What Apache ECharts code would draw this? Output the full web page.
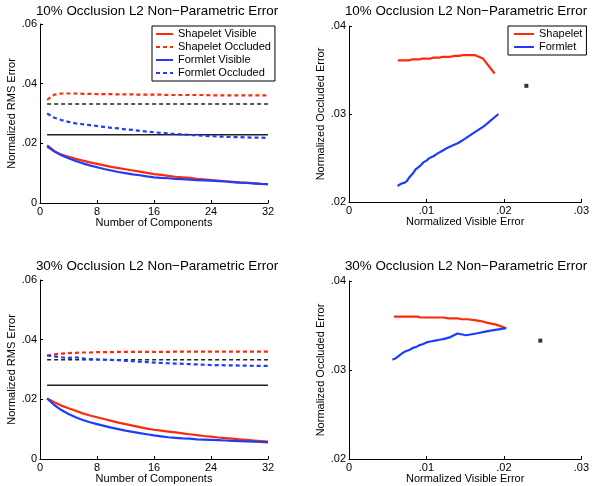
<!DOCTYPE html>
<html>
<head>
<meta charset="utf-8">
<script src="https://cdn.jsdelivr.net/npm/echarts@6/dist/echarts.min.js"></script>
<style>
  html, body { margin: 0; padding: 0; background: #fff; }
  #chart { width: 592px; height: 486px; }
</style>
</head>
<body>
<div id="chart"></div>
<script>
// number of components (x of the left panels)
var comps = [1, 2, 3, 4, 5, 6, 7, 8, 9, 10, 11, 12, 13, 14, 15, 16,
             17, 18, 19, 20, 21, 22, 23, 24, 25, 26, 27, 28, 29, 30, 31, 32];

// 10% occlusion
var shapeVis10 = [.0188, .0173, .0162, .0155, .0148, .0142, .0136, .0131, .0126, .0121, .0117, .0113, .0109, .0105, .0101, .0097,
                  .0094, .0091, .0088, .0086, .0084, .0081, .0079, .0077, .0075, .0073, .0071, .0069, .0068, .0066, .0064, .0063];
var shapeOcc10 = [.0346, .0363, .0367, .0367, .0367, .0366, .0366, .0365, .0365, .0365, .0364, .0364, .0364, .0363, .0363, .0363,
                  .0363, .0362, .0362, .0362, .0362, .0362, .0362, .0361, .0361, .0361, .0361, .0361, .0361, .0361, .0361, .0361];
var formVis10 = [.0193, .0174, .0160, .0150, .0141, .0133, .0126, .0120, .0114, .0109, .0104, .0100, .0096, .0093, .0089, .0086,
                 .0084, .0083, .0081, .0080, .0078, .0077, .0076, .0075, .0073, .0072, .0070, .0068, .0067, .0066, .0064, .0063];
var formOcc10 = [.0300, .0286, .0278, .0272, .0267, .0264, .0261, .0258, .0255, .0252, .0250, .0247, .0245, .0242, .0239, .0237,
                 .0235, .0233, .0231, .0230, .0228, .0227, .0225, .0224, .0223, .0222, .0221, .0221, .0220, .0219, .0219, .0218];
var baseVis10 = .0229;
var baseOcc10 = .0332;

// 30% occlusion
var shapeVis30 = [.0203, .0190, .0179, .0170, .0162, .0153, .0146, .0140, .0134, .0128, .0122, .0117, .0112, .0107, .0102, .0098,
                  .0095, .0092, .0089, .0086, .0083, .0080, .0077, .0075, .0072, .0070, .0068, .0066, .0064, .0062, .0060, .0058];
var shapeOcc30 = [.0347, .0351, .0353, .0355, .0356, .0357, .0357, .0358, .0358, .0358, .0359, .0359, .0359, .0359, .0359, .0359,
                  .0359, .0359, .0360, .0360, .0360, .0360, .0360, .0360, .0360, .0360, .0360, .0360, .0360, .0360, .0360, .0360];
var formVis30 = [.0203, .0181, .0164, .0151, .0140, .0131, .0123, .0117, .0111, .0105, .0100, .0095, .0091, .0087, .0083, .0079,
                 .0076, .0073, .0071, .0069, .0068, .0066, .0065, .0064, .0063, .0062, .0061, .0060, .0059, .0058, .0057, .0056];
var formOcc30 = [.0347, .0344, .0341, .0339, .0341, .0337, .0335, .0334, .0333, .0332, .0331, .0329, .0328, .0326, .0325, .0323,
                 .0322, .0321, .0320, .0319, .0318, .0317, .0316, .0315, .0315, .0314, .0314, .0313, .0313, .0312, .0312, .0312];
var baseVis30 = .0247;
var baseOcc30 = .0333;

var RED = '#ff2a0a';
var BLUE = '#1e3cff';
var FONT = 'Liberation Sans, Arial, Helvetica, sans-serif';

function byComp(vals) {
    return comps.map(function (k, i) { return [k, vals[i]]; });
}
function pairs(vis, occ) {
    return vis.map(function (v, i) { return [v, occ[i]]; });
}
function flat(v) {
    return [[comps[0], v], [comps[comps.length - 1], v]];
}
function tick(v) {
    if (v === 0) return '0';
    return String(+v.toFixed(2)).replace(/^0/, '');
}

function xAx(idx, max, interval, name) {
    return {
        gridIndex: idx, type: 'value', min: 0, max: max, interval: interval,
        name: name, nameLocation: 'middle', nameGap: 13,
        nameTextStyle: {color: '#000', fontSize: 11, fontFamily: FONT},
        axisLine: {lineStyle: {color: '#000', width: 1}},
        axisTick: {inside: true, length: 3, lineStyle: {color: '#000'}},
        axisLabel: {color: '#000', fontSize: 11, fontFamily: FONT, margin: 3, formatter: tick},
        splitLine: {show: false}
    };
}
function yAx(idx, min, max, interval, name, gap) {
    return {
        gridIndex: idx, type: 'value', min: min, max: max, interval: interval,
        name: name, nameLocation: 'middle', nameGap: gap,
        nameTextStyle: {color: '#000', fontSize: 11, fontFamily: FONT},
        axisLine: {show: true, lineStyle: {color: '#000', width: 1}},
        axisTick: {show: true, inside: true, length: 3, lineStyle: {color: '#000'}},
        axisLabel: {color: '#000', fontSize: 11, fontFamily: FONT, margin: 3, formatter: tick},
        splitLine: {show: false}
    };
}
function line(name, idx, data, color, dashed, width) {
    return {
        name: name, type: 'line', xAxisIndex: idx, yAxisIndex: idx, data: data,
        showSymbol: false, symbol: 'none', silent: true, animation: false,
        lineStyle: {color: color, width: width || 2.2, type: dashed ? [4, 3] : 'solid'},
        itemStyle: {color: color}
    };
}
function marker(idx, x, y) {
    return {
        type: 'scatter', xAxisIndex: idx, yAxisIndex: idx, data: [[x, y]],
        symbol: 'rect', symbolSize: 4, itemStyle: {color: '#000'}, silent: true, animation: false
    };
}

var titleStyle = {color: '#000', fontSize: 13.4, fontWeight: 'normal', fontFamily: FONT};
var legendText = {color: '#000', fontSize: 11, fontFamily: FONT, lineHeight: 12};

var myChart = echarts.init(document.getElementById('chart'));

option = {
    backgroundColor: '#fff',
    animation: false,
    title: [
        {text: '10% Occlusion L2 Non\u2212Parametric Error', left: 157, top: 5, textAlign: 'center', textStyle: titleStyle, padding: 0},
        {text: '10% Occlusion L2 Non\u2212Parametric Error', left: 466, top: 5, textAlign: 'center', textStyle: titleStyle, padding: 0},
        {text: '30% Occlusion L2 Non\u2212Parametric Error', left: 157, top: 260, textAlign: 'center', textStyle: titleStyle, padding: 0},
        {text: '30% Occlusion L2 Non\u2212Parametric Error', left: 466, top: 260, textAlign: 'center', textStyle: titleStyle, padding: 0}
    ],
    legend: [
        {
            data: ['Shapelet Visible', 'Shapelet Occluded', 'Formlet Visible', 'Formlet Occluded'],
            orient: 'vertical', left: 152, top: 26, selectedMode: false,
            backgroundColor: '#fff', borderColor: '#000', borderWidth: 1, borderRadius: 0,
            padding: [2, 4, 2, 3], itemWidth: 17, itemHeight: 10, itemGap: 1,
            itemStyle: {opacity: 0},
            textStyle: legendText
        },
        {
            data: ['Shapelet', 'Formlet'],
            orient: 'vertical', left: 508, top: 26, selectedMode: false,
            backgroundColor: '#fff', borderColor: '#000', borderWidth: 1, borderRadius: 0,
            padding: [2, 4, 2, 5], itemWidth: 20, itemHeight: 10, itemGap: 1,
            itemStyle: {opacity: 0},
            textStyle: legendText
        }
    ],
    grid: [
        {left: 40, top: 24, width: 228, height: 179},
        {left: 349, top: 26, width: 234, height: 176},
        {left: 40, top: 280, width: 228, height: 179},
        {left: 349, top: 281, width: 234, height: 178}
    ],
    xAxis: [
        xAx(0, 32, 8, 'Number of Components'),
        xAx(1, .03, .01, 'Normalized Visible Error'),
        xAx(2, 32, 8, 'Number of Components'),
        xAx(3, .03, .01, 'Normalized Visible Error')
    ],
    yAxis: [
        yAx(0, 0, .06, .02, 'Normalized RMS Error', 22),
        yAx(1, .02, .04, .01, 'Normalized Occluded Error', 20),
        yAx(2, 0, .06, .02, 'Normalized RMS Error', 22),
        yAx(3, .02, .04, .01, 'Normalized Occluded Error', 20)
    ],
    series: [
        // 10% vs components
        line('', 0, flat(baseOcc10), '#222', true, 1.5),
        line('', 0, flat(baseVis10), '#222', false, 1.5),
        line('Shapelet Visible', 0, byComp(shapeVis10), RED, false),
        line('Shapelet Occluded', 0, byComp(shapeOcc10), RED, true),
        line('Formlet Visible', 0, byComp(formVis10), BLUE, false),
        line('Formlet Occluded', 0, byComp(formOcc10), BLUE, true),
        // 10% occluded vs visible
        line('Shapelet', 1, pairs(shapeVis10, shapeOcc10), RED, false),
        line('Formlet', 1, pairs(formVis10, formOcc10), BLUE, false),
        marker(1, baseVis10, baseOcc10),
        // 30% vs components
        line('', 2, flat(baseOcc30), '#222', true, 1.5),
        line('', 2, flat(baseVis30), '#222', false, 1.5),
        line('Shapelet Visible', 2, byComp(shapeVis30), RED, false),
        line('Shapelet Occluded', 2, byComp(shapeOcc30), RED, true),
        line('Formlet Visible', 2, byComp(formVis30), BLUE, false),
        line('Formlet Occluded', 2, byComp(formOcc30), BLUE, true),
        // 30% occluded vs visible
        line('Shapelet', 3, pairs(shapeVis30, shapeOcc30), RED, false),
        line('Formlet', 3, pairs(formVis30, formOcc30), BLUE, false),
        marker(3, baseVis30, baseOcc30)
    ]
};

myChart.setOption(option);
</script>
</body>
</html>
